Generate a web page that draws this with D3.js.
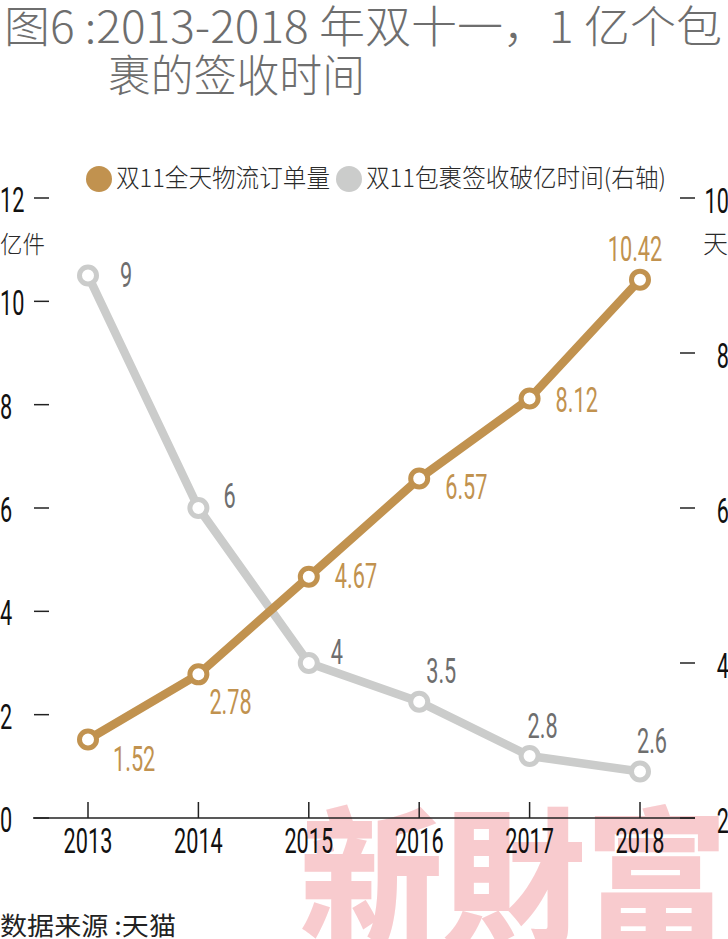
<!DOCTYPE html>
<html><head><meta charset="utf-8">
<script src="https://cdn.jsdelivr.net/npm/d3@7"></script>
<style>html,body{margin:0;padding:0;background:#fff;}svg{display:block;}</style>
</head><body>
<script>
const years = ['2013','2014','2015','2016','2017','2018'];
const orders = [1.52, 2.78, 4.67, 6.57, 8.12, 10.42];
const signDays = [9, 6, 4, 3.5, 2.8, 2.6];
const leftTicks = [0, 2, 4, 6, 8, 10, 12];
const rightTicks = [2, 4, 6, 8, 10];
const titleLines = ['图6 :2013-2018 年双十一，1 亿个包', '裹的签收时间'];
const legendNames = ['双11全天物流订单量', '双11包裹签收破亿时间(右轴)'];

// label placement (layout only): [dx, dy, anchor]
const orderLabelPos = [[25,32,'start'],[11,40,'start'],[26,11,'start'],[26,20,'start'],[26,14,'start'],[-5,-19,'middle']];
const signLabelPos = [[32,11,'start'],[25,0,'start'],[22,1,'start'],[7,-19,'start'],[13,-18,'middle'],[12,-19,'middle']];

const W = 728, H = 939;
const ORANGE = '#c1924f', GREY = '#cbcccb', GREYTXT = '#6e6e6e';
const CJK = '"Noto Sans CJK SC", "Noto Sans", sans-serif';
const NUM = 'Roboto, "DejaVu Sans", sans-serif';

const svg = d3.select('body').append('svg').attr('width', W).attr('height', H);

// watermark
svg.append('text').attr('x', 300).attr('y', 935)
  .attr('font-family', '"Noto Sans CJK TC", "Noto Sans CJK SC", sans-serif')
  .attr('font-weight', 900).attr('font-size', 150).attr('fill', '#f8cbce')
  .attr('textLength', 428).attr('lengthAdjust', 'spacingAndGlyphs')
  .text('新財富');

// title
svg.append('text').attr('x', 4).attr('y', 43).attr('font-family', CJK).attr('font-size', 44).attr('font-weight', 300)
  .attr('fill', GREYTXT).attr('textLength', 718).attr('lengthAdjust', 'spacingAndGlyphs').text(titleLines[0]);
svg.append('text').attr('x', 108).attr('y', 92).attr('font-family', CJK).attr('font-size', 44).attr('font-weight', 300)
  .attr('fill', GREYTXT).attr('textLength', 257).attr('lengthAdjust', 'spacingAndGlyphs').text(titleLines[1]);

// legend
const legendItems = [
  {name: legendNames[0], color: ORANGE, cx: 99, tx: 116, len: 214},
  {name: legendNames[1], color: GREY, cx: 349, tx: 366, len: 300}
];
legendItems.forEach(d => {
  svg.append('circle').attr('cx', d.cx).attr('cy', 179).attr('r', 13).attr('fill', d.color);
  svg.append('text').attr('x', d.tx).attr('y', 187).attr('font-family', CJK).attr('font-size', 25).attr('font-weight', 300)
    .attr('fill', '#2a2a2a').attr('textLength', d.len).attr('lengthAdjust', 'spacingAndGlyphs').text(d.name);
});

// scales
const x = d3.scalePoint().domain(years).range([88, 640]);
const yL = d3.scaleLinear().domain([0, 12]).range([818, 198]);
const yR = d3.scaleLinear().domain([2, 10]).range([818, 198]);

function ctext(g, px, py, txt, anchor, fill) {
  return g.append('text').attr('transform', `translate(${px},${py}) scale(0.62,1)`)
    .attr('text-anchor', anchor).attr('font-family', NUM).attr('font-size', 35).attr('font-weight', 400)
    .attr('fill', fill).text(txt);
}

// left axis
const gL = svg.append('g');
leftTicks.forEach(t => {
  gL.append('line').attr('x1', 34).attr('x2', 49).attr('y1', yL(t)).attr('y2', yL(t))
    .attr('stroke', '#222').attr('stroke-width', 1.5);
  ctext(gL, 0, yL(t) + 14, String(t), 'start', '#111');
});
svg.append('text').attr('x', 0).attr('y', 253).attr('font-family', CJK).attr('font-size', 24).attr('font-weight', 300)
  .attr('fill', '#2a2a2a').attr('textLength', 45).attr('lengthAdjust', 'spacingAndGlyphs').text('亿件');

// right axis
const gR = svg.append('g');
rightTicks.forEach(t => {
  gR.append('line').attr('x1', 680).attr('x2', 695).attr('y1', yR(t)).attr('y2', yR(t))
    .attr('stroke', '#222').attr('stroke-width', 1.5);
  ctext(gR, 729, yR(t) + 15, String(t), 'end', '#111');
});
svg.append('text').attr('x', 703).attr('y', 253).attr('font-family', CJK).attr('font-size', 25).attr('font-weight', 300)
  .attr('fill', '#2a2a2a').text('天');

// x axis
const gX = svg.append('g');
gX.append('line').attr('x1', 33).attr('x2', 695).attr('y1', 818).attr('y2', 818)
  .attr('stroke', '#222').attr('stroke-width', 1.6);
years.forEach(yr => {
  gX.append('line').attr('x1', x(yr)).attr('x2', x(yr)).attr('y1', 802).attr('y2', 818)
    .attr('stroke', '#222').attr('stroke-width', 1.5);
  ctext(gX, x(yr), 853, yr, 'middle', '#111');
});

// lines
const lineR = d3.line().x((d, i) => x(years[i])).y(d => yR(d));
const lineL = d3.line().x((d, i) => x(years[i])).y(d => yL(d));

svg.append('path').datum(signDays).attr('d', lineR).attr('fill', 'none')
  .attr('stroke', GREY).attr('stroke-width', 8.5).attr('stroke-linejoin', 'round');
svg.append('path').datum(orders).attr('d', lineL).attr('fill', 'none')
  .attr('stroke', ORANGE).attr('stroke-width', 8.5).attr('stroke-linejoin', 'round');

svg.append('g').selectAll('circle').data(signDays).join('circle')
  .attr('cx', (d, i) => x(years[i])).attr('cy', d => yR(d)).attr('r', 8.5)
  .attr('fill', '#fff').attr('stroke', GREY).attr('stroke-width', 5);
svg.append('g').selectAll('circle').data(orders).join('circle')
  .attr('cx', (d, i) => x(years[i])).attr('cy', d => yL(d)).attr('r', 8.5)
  .attr('fill', '#fff').attr('stroke', ORANGE).attr('stroke-width', 5);

// data labels
const gLab = svg.append('g');
orders.forEach((v, i) => {
  const p = orderLabelPos[i];
  ctext(gLab, x(years[i]) + p[0], yL(v) + p[1], String(v), p[2], ORANGE);
});
signDays.forEach((v, i) => {
  const p = signLabelPos[i];
  ctext(gLab, x(years[i]) + p[0], yR(v) + p[1], String(v), p[2], GREYTXT);
});

// source
svg.append('text').attr('x', 0).attr('y', 935).attr('font-family', CJK).attr('font-size', 25)
  .attr('fill', '#222').attr('textLength', 176).attr('lengthAdjust', 'spacingAndGlyphs').text('数据来源 :天猫');
</script>
</body></html>
